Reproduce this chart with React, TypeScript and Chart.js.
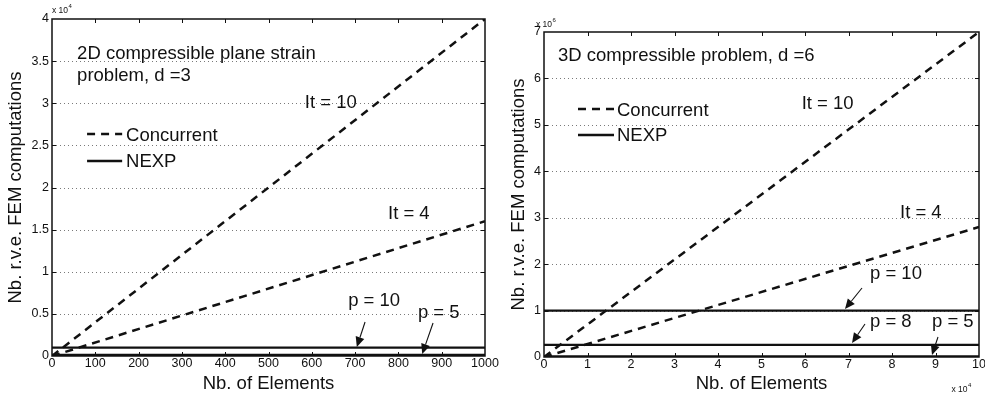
import React, { useEffect, useRef } from 'react';
import { Chart, registerables } from 'chart.js';

Chart.register(...registerables);

const FONT = '"Liberation Sans", Arial, Helvetica, sans-serif';
const INK = '#111111';

// ---------- Left chart: 2D compressible plane strain problem, d = 3 ----------
const elements2D = [0, 1000];
const concurrentIt10_2D = [0, 40000];
const concurrentIt4_2D = [0, 16000];
const nexpP10_2D = [1000, 1000];
const nexpP5_2D = [125, 125];
const xTickLabels2D = ['0', '100', '200', '300', '400', '500', '600', '700', '800', '900', '1000'];
const yTickLabels2D = ['0', '0.5', '1', '1.5', '2', '2.5', '3', '3.5', '4'];

// ---------- Right chart: 3D compressible problem, d = 6 ----------
const elements3D = [0, 100000];
const concurrentIt10_3D = [0, 7000000];
const concurrentIt4_3D = [0, 2800000];
const nexpP10_3D = [1000000, 1000000];
const nexpP8_3D = [262000, 262000];
const nexpP5_3D = [16000, 16000];
const xTickLabels3D = ['0', '1', '2', '3', '4', '5', '6', '7', '8', '9', '10'];
const yTickLabels3D = ['0', '1', '2', '3', '4', '5', '6', '7'];

const pts = (xs: number[], ys: number[]) => xs.map((x, i) => ({ x, y: ys[i] }));

type Txt = { text: string; x: number; y: number };
type Arrow = { x1: number; y1: number; x2: number; y2: number };
type Deco = {
  texts: Txt[];
  arrows: Arrow[];
  legend: { x1: number; x2: number; xt: number; yC: number; yN: number };
  expTop: { dx: number; dy: number; exp: string };
  expBottom?: { dx: number; dy: number; exp: string };
};

const deco2D: Deco = {
  texts: [
    { text: '2D compressible plane strain', x: 58, y: 35850 },
    { text: 'problem, d =3', x: 58, y: 33290 },
    { text: 'It = 10', x: 584, y: 30000 },
    { text: 'It = 4', x: 776, y: 16900 },
    { text: 'p = 10', x: 684, y: 6530 },
    { text: 'p = 5', x: 845, y: 5160 },
  ],
  arrows: [
    { x1: 723, y1: 4036, x2: 704, y2: 1068 },
    { x1: 880, y1: 3917, x2: 855, y2: 237 },
  ],
  legend: { x1: 81, x2: 162, xt: 171, yC: 26350, yN: 23145 },
  expTop: { dx: 0, dy: -6.5, exp: '4' },
};

const deco3D: Deco = {
  texts: [
    { text: '3D compressible problem, d =6', x: 3218, y: 6483000 },
    { text: 'It = 10', x: 59240, y: 5449000 },
    { text: 'It = 4', x: 81839, y: 3112000 },
    { text: 'p = 10', x: 74943, y: 1788000 },
    { text: 'p = 8', x: 74943, y: 754000 },
    { text: 'p = 5', x: 89195, y: 754000 },
  ],
  arrows: [
    { x1: 73103, y1: 1486000, x2: 69195, y2: 1034000 },
    { x1: 73793, y1: 711000, x2: 70805, y2: 302000 },
    { x1: 90575, y1: 431000, x2: 89195, y2: 43000 },
  ],
  legend: { x1: 7816, x2: 16092, xt: 16782, yC: 5341000, yN: 4781000 },
  expTop: { dx: -8, dy: -5.5, exp: '6' },
  expBottom: { dx: -27.5, dy: 34.5, exp: '4' },
};

function drawExp(ctx: CanvasRenderingContext2D, x: number, y: number, exp: string) {
  ctx.save();
  ctx.fillStyle = INK;
  ctx.textAlign = 'left';
  ctx.textBaseline = 'alphabetic';
  ctx.font = `8.5px ${FONT}`;
  ctx.fillText('x 10', x, y);
  const w = ctx.measureText('x 10').width;
  ctx.font = `6px ${FONT}`;
  ctx.fillText(exp, x + w + 0.5, y - 4.5);
  ctx.restore();
}

function makeDecoPlugin(deco: Deco) {
  return {
    id: 'matlabDeco',
    beforeDatasetsDraw(chart: any) {
      const { ctx, chartArea: a, scales } = chart;
      const ys = scales.y;
      ctx.save();
      ctx.strokeStyle = '#7a7a7a';
      ctx.lineWidth = 1;
      ctx.setLineDash([1, 3]);
      ys.ticks.forEach((t: any) => {
        if (t.value <= ys.min || t.value >= ys.max) return;
        const py = Math.round(ys.getPixelForValue(t.value)) + 0.5;
        ctx.beginPath();
        ctx.moveTo(a.left, py);
        ctx.lineTo(a.right, py);
        ctx.stroke();
      });
      ctx.restore();
    },
    afterDatasetsDraw(chart: any) {
      const { ctx, chartArea: a, scales } = chart;
      const xs = scales.x;
      const ys = scales.y;
      ctx.save();
      // box
      ctx.strokeStyle = INK;
      ctx.lineWidth = 1.5;
      ctx.setLineDash([]);
      ctx.strokeRect(a.left, a.top, a.right - a.left, a.bottom - a.top);
      // inward ticks
      ctx.lineWidth = 1;
      const TL = 4;
      xs.ticks.forEach((t: any) => {
        if (t.value <= xs.min || t.value >= xs.max) return;
        const px = Math.round(xs.getPixelForValue(t.value)) + 0.5;
        ctx.beginPath();
        ctx.moveTo(px, a.bottom);
        ctx.lineTo(px, a.bottom - TL);
        ctx.moveTo(px, a.top);
        ctx.lineTo(px, a.top + TL);
        ctx.stroke();
      });
      ys.ticks.forEach((t: any) => {
        if (t.value <= ys.min || t.value >= ys.max) return;
        const py = Math.round(ys.getPixelForValue(t.value)) + 0.5;
        ctx.beginPath();
        ctx.moveTo(a.left, py);
        ctx.lineTo(a.left + TL, py);
        ctx.moveTo(a.right, py);
        ctx.lineTo(a.right - TL, py);
        ctx.stroke();
      });
      // texts
      ctx.fillStyle = INK;
      ctx.font = `18.5px ${FONT}`;
      ctx.textAlign = 'left';
      ctx.textBaseline = 'middle';
      deco.texts.forEach((t) => {
        ctx.fillText(t.text, xs.getPixelForValue(t.x), ys.getPixelForValue(t.y));
      });
      // legend
      const L = deco.legend;
      const lx1 = xs.getPixelForValue(L.x1);
      const lx2 = xs.getPixelForValue(L.x2);
      const lxt = xs.getPixelForValue(L.xt);
      const lyC = ys.getPixelForValue(L.yC);
      const lyN = ys.getPixelForValue(L.yN);
      ctx.lineWidth = 2.5;
      ctx.setLineDash([8, 6]);
      ctx.beginPath();
      ctx.moveTo(lx1, lyC);
      ctx.lineTo(lx2, lyC);
      ctx.stroke();
      ctx.setLineDash([]);
      ctx.beginPath();
      ctx.moveTo(lx1, lyN);
      ctx.lineTo(lx2, lyN);
      ctx.stroke();
      ctx.fillText('Concurrent', lxt, lyC + 2);
      ctx.fillText('NEXP', lxt, lyN + 0.5);
      // arrows
      ctx.lineWidth = 1.1;
      deco.arrows.forEach((ar) => {
        const x1 = xs.getPixelForValue(ar.x1);
        const y1 = ys.getPixelForValue(ar.y1);
        const x2 = xs.getPixelForValue(ar.x2);
        const y2 = ys.getPixelForValue(ar.y2);
        const ang = Math.atan2(y2 - y1, x2 - x1);
        const hl = 10;
        const hw = 4.5;
        const bx = x2 - hl * Math.cos(ang);
        const by = y2 - hl * Math.sin(ang);
        ctx.beginPath();
        ctx.moveTo(x1, y1);
        ctx.lineTo(bx, by);
        ctx.stroke();
        ctx.beginPath();
        ctx.moveTo(x2, y2);
        ctx.lineTo(bx + hw * Math.sin(ang), by - hw * Math.cos(ang));
        ctx.lineTo(bx - hw * Math.sin(ang), by + hw * Math.cos(ang));
        ctx.closePath();
        ctx.fill();
      });
      // exponent labels
      drawExp(ctx, a.left + deco.expTop.dx, a.top + deco.expTop.dy, deco.expTop.exp);
      if (deco.expBottom) {
        drawExp(ctx, a.right + deco.expBottom.dx, a.bottom + deco.expBottom.dy, deco.expBottom.exp);
      }
      ctx.restore();
    },
  };
}

type PanelSpec = {
  width: number;
  height: number;
  padding: { left: number; top: number; right: number; bottom: number };
  yWidth: number;
  xHeight: number;
  yTitlePad: number;
  xMax: number;
  xStep: number;
  yMax: number;
  yStep: number;
  xLabels: string[];
  yLabels: string[];
  datasets: any[];
  deco: Deco;
};

function Panel({ spec, left }: { spec: PanelSpec; left: number }) {
  const ref = useRef<HTMLCanvasElement | null>(null);
  useEffect(() => {
    if (!ref.current) return;
    const tickFont = { family: FONT, size: 12.5 };
    const titleFont = { family: FONT, size: 18.5 };
    const chart = new Chart(ref.current, {
      type: 'line',
      data: { datasets: spec.datasets },
      options: {
        animation: false,
        responsive: false,
        devicePixelRatio: 1,
        layout: { padding: spec.padding },
        plugins: { legend: { display: false }, tooltip: { enabled: false } },
        elements: { point: { radius: 0 }, line: { tension: 0 } },
        scales: {
          x: {
            type: 'linear',
            min: 0,
            max: spec.xMax,
            ticks: {
              stepSize: spec.xStep,
              autoSkip: false,
              maxRotation: 0,
              padding: 0,
              color: INK,
              font: tickFont,
              callback: (_v: any, i: number) => spec.xLabels[i],
            },
            grid: { display: false, drawTicks: false },
            border: { display: false },
            title: {
              display: true,
              text: 'Nb. of Elements',
              color: INK,
              font: titleFont,
              padding: { top: 0, bottom: 5.5 },
            },
            afterFit: (s: any) => {
              s.height = spec.xHeight;
              s.paddingLeft = 0;
              s.paddingRight = 0;
            },
          },
          y: {
            type: 'linear',
            min: 0,
            max: spec.yMax,
            ticks: {
              stepSize: spec.yStep,
              padding: 3,
              color: INK,
              font: tickFont,
              callback: (_v: any, i: number) => spec.yLabels[i],
            },
            grid: { display: false, drawTicks: false },
            border: { display: false },
            title: {
              display: true,
              text: 'Nb. r.v.e. FEM computations',
              color: INK,
              font: titleFont,
              padding: { top: spec.yTitlePad, bottom: 0 },
            },
            afterFit: (s: any) => {
              s.width = spec.yWidth;
              s.paddingTop = 0;
              s.paddingBottom = 0;
            },
          },
        },
      } as any,
      plugins: [makeDecoPlugin(spec.deco)],
    });
    return () => chart.destroy();
  }, [spec]);
  return (
    <canvas
      ref={ref}
      width={spec.width}
      height={spec.height}
      style={{ position: 'absolute', left, top: 0, width: spec.width, height: spec.height }}
    />
  );
}

const dashed = (label: string, data: any[]) => ({
  label,
  data,
  borderColor: INK,
  borderWidth: 2.5,
  borderDash: [8, 6],
  pointRadius: 0,
  fill: false,
});
const solid = (label: string, data: any[]) => ({
  label,
  data,
  borderColor: INK,
  borderWidth: 2.2,
  pointRadius: 0,
  fill: false,
});

const spec2D: PanelSpec = {
  width: 515,
  height: 401,
  padding: { left: 0, top: 19, right: 30, bottom: 0 },
  yWidth: 52,
  xHeight: 45,
  yTitlePad: 4.4,
  xMax: 1000,
  xStep: 100,
  yMax: 40000,
  yStep: 5000,
  xLabels: xTickLabels2D,
  yLabels: yTickLabels2D,
  datasets: [
    dashed('Concurrent It = 10', pts(elements2D, concurrentIt10_2D)),
    dashed('Concurrent It = 4', pts(elements2D, concurrentIt4_2D)),
    solid('NEXP p = 10', pts(elements2D, nexpP10_2D)),
    solid('NEXP p = 5', pts(elements2D, nexpP5_2D)),
  ],
  deco: deco2D,
};

const spec3D: PanelSpec = {
  width: 495,
  height: 401,
  padding: { left: 0, top: 32, right: 6, bottom: 0 },
  yWidth: 54,
  xHeight: 44,
  yTitlePad: 17.9,
  xMax: 100000,
  xStep: 10000,
  yMax: 7000000,
  yStep: 1000000,
  xLabels: xTickLabels3D,
  yLabels: yTickLabels3D,
  datasets: [
    dashed('Concurrent It = 10', pts(elements3D, concurrentIt10_3D)),
    dashed('Concurrent It = 4', pts(elements3D, concurrentIt4_3D)),
    solid('NEXP p = 10', pts(elements3D, nexpP10_3D)),
    solid('NEXP p = 8', pts(elements3D, nexpP8_3D)),
    solid('NEXP p = 5', pts(elements3D, nexpP5_3D)),
  ],
  deco: deco3D,
};

export default function App() {
  return (
    <div style={{ position: 'absolute', left: 0, top: 0, width: 985, height: 401, background: '#ffffff', overflow: 'hidden' }}>
      <Panel spec={spec2D} left={0} />
      <Panel spec={spec3D} left={490} />
    </div>
  );
}
